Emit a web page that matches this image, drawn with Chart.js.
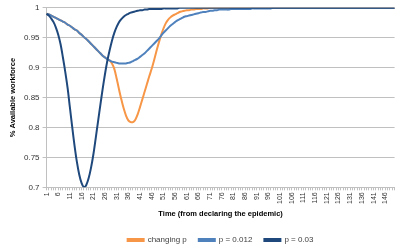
<!DOCTYPE html>
<html>
<head>
<meta charset="utf-8">
<script src="https://cdn.jsdelivr.net/npm/chart.js@4.4.1/dist/chart.umd.min.js"></script>
<style>
  html, body { margin: 0; padding: 0; background: #fff; }
  #wrap { width: 405px; height: 248px; }
</style>
</head>
<body>
<div id="wrap"><canvas id="myChart"></canvas></div>
<script>
// days 1..150 since the epidemic was declared
const days = [];
for (let d = 1; d <= 150; d++) days.push(String(d));

const yTicks = [0.7, 0.75, 0.8, 0.85, 0.9, 0.95, 1];

const changingP = [
  0.990, 0.989, 0.987, 0.985, 0.983, 0.981, 0.979, 0.977, 0.975, 0.972,
  0.970, 0.967, 0.964, 0.962, 0.958, 0.955, 0.951, 0.948, 0.944, 0.940,
  0.936, 0.932, 0.928, 0.924, 0.920, 0.917, 0.914, 0.912, 0.907, 0.898,
  0.882, 0.864, 0.847, 0.832, 0.820, 0.812, 0.809, 0.809, 0.813, 0.822,
  0.834, 0.847, 0.860, 0.873, 0.886, 0.898, 0.912, 0.927, 0.941, 0.954,
  0.965, 0.974, 0.980, 0.984, 0.987, 0.989, 0.991, 0.993, 0.994, 0.995,
  0.996, 0.996, 0.997, 0.997, 0.998, 0.998, 0.998, 0.999, 0.999, 0.999,
  1, 1, 1, 1, 1, 1, 1, 1, 1, 1,
  1, 1, 1, 1, 1, 1, 1, 1, 1, 1,
  1, 1, 1, 1, 1, 1, 1, 1, 1, 1,
  1, 1, 1, 1, 1, 1, 1, 1, 1, 1,
  1, 1, 1, 1, 1, 1, 1, 1, 1, 1,
  1, 1, 1, 1, 1, 1, 1, 1, 1, 1,
  1, 1, 1, 1, 1, 1, 1, 1, 1, 1,
  1, 1, 1, 1, 1, 1, 1, 1, 1, 1
];

const p012 = [
  0.990, 0.989, 0.987, 0.985, 0.983, 0.981, 0.979, 0.977, 0.975, 0.972,
  0.970, 0.967, 0.964, 0.962, 0.958, 0.955, 0.951, 0.948, 0.944, 0.940,
  0.936, 0.932, 0.928, 0.924, 0.920, 0.917, 0.914, 0.912, 0.910, 0.909,
  0.908, 0.907, 0.907, 0.907, 0.907, 0.908, 0.909, 0.911, 0.913, 0.915,
  0.918, 0.921, 0.924, 0.928, 0.932, 0.936, 0.940, 0.944, 0.948, 0.953,
  0.958, 0.962, 0.966, 0.970, 0.973, 0.976, 0.979, 0.981, 0.983, 0.985,
  0.986, 0.987, 0.988, 0.989, 0.990, 0.991, 0.992, 0.993, 0.993, 0.994,
  0.995, 0.995, 0.996, 0.996, 0.997, 0.997, 0.997, 0.997, 0.997, 0.998,
  0.998, 0.998, 0.998, 0.998, 0.998, 0.998, 0.998, 0.998, 0.999, 0.999,
  0.999, 0.999, 0.999, 0.999, 0.999, 0.999, 0.999, 1, 1, 1,
  1, 1, 1, 1, 1, 1, 1, 1, 1, 1,
  1, 1, 1, 1, 1, 1, 1, 1, 1, 1,
  1, 1, 1, 1, 1, 1, 1, 1, 1, 1,
  1, 1, 1, 1, 1, 1, 1, 1, 1, 1,
  1, 1, 1, 1, 1, 1, 1, 1, 1, 1
];

const p03 = [
  0.990, 0.987, 0.982, 0.976, 0.967, 0.955, 0.939, 0.917, 0.893, 0.866,
  0.833, 0.800, 0.769, 0.742, 0.721, 0.707, 0.700, 0.704, 0.715, 0.732,
  0.754, 0.781, 0.809, 0.837, 0.864, 0.889, 0.911, 0.929, 0.945, 0.958,
  0.968, 0.976, 0.981, 0.985, 0.988, 0.990, 0.992, 0.993, 0.994, 0.995,
  0.996, 0.996, 0.997, 0.997, 0.998, 0.998, 0.998, 0.998, 0.998, 0.998,
  0.999, 0.999, 0.999, 0.999, 0.999, 0.999, 0.999, 1, 1, 1,
  1, 1, 1, 1, 1, 1, 1, 1, 1, 1,
  1, 1, 1, 1, 1, 1, 1, 1, 1, 1,
  1, 1, 1, 1, 1, 1, 1, 1, 1, 1,
  1, 1, 1, 1, 1, 1, 1, 1, 1, 1,
  1, 1, 1, 1, 1, 1, 1, 1, 1, 1,
  1, 1, 1, 1, 1, 1, 1, 1, 1, 1,
  1, 1, 1, 1, 1, 1, 1, 1, 1, 1,
  1, 1, 1, 1, 1, 1, 1, 1, 1, 1,
  1, 1, 1, 1, 1, 1, 1, 1, 1, 1
];

const font = "'Liberation Sans', Arial, sans-serif";
const gridColor = "#c0c0c0";

function series(label, data, color, order) {
  return {
    label: label,
    data: data,
    borderColor: color,
    backgroundColor: color,
    borderWidth: 2,
    pointRadius: 0,
    tension: 0.3,
    order: order,
  };
}

new Chart(document.getElementById("myChart"), {
  type: "line",
  data: {
    labels: days,
    datasets: [
      series("changing p", changingP, "#F79646", 3),
      series("p = 0.012", p012, "#4F81BD", 2),
      series("p = 0.03", p03, "#1F497D", 1),
    ],
  },
  options: {
    responsive: true,
    maintainAspectRatio: false,
    animation: false,
    layout: { padding: { left: 8, right: 9, top: 4, bottom: -6 } },
    plugins: {
      tooltip: { enabled: false },
      legend: {
        position: "bottom",
        fullSize: false,
        labels: {
          sort: (a, b) => a.datasetIndex - b.datasetIndex,
          boxWidth: 16,
          boxHeight: 2,
          padding: 12,
          color: "#404040",
          font: { family: font, size: 8 },
        },
      },
    },
    scales: {
      x: {
        grid: { drawOnChartArea: false, drawTicks: true, tickLength: 3, color: gridColor },
        border: { color: gridColor },
        ticks: {
          autoSkip: false,
          minRotation: 90,
          maxRotation: 90,
          padding: 2,
          color: "#333",
          font: { family: font, size: 7 },
          callback: function (v, i) {
            return i % 5 === 0 ? days[i] : "";
          },
        },
        title: {
          display: true,
          text: "Time (from declaring the epidemic)",
          color: "#000",
          font: { family: font, size: 7.5, weight: "bold" },
          padding: { top: 3, bottom: 6 },
        },
      },
      y: {
        min: 0.7,
        max: 1,
        afterBuildTicks: (axis) => {
          axis.ticks = yTicks.map((v) => ({ value: v }));
        },
        grid: { color: gridColor, tickLength: 4 },
        border: { color: gridColor },
        ticks: {
          color: "#333",
          padding: 3,
          font: { family: font, size: 8 },
          callback: (v) => String(parseFloat(v.toFixed(2))),
        },
        title: {
          display: true,
          text: "% Available workforce",
          color: "#000",
          font: { family: font, size: 7.5, weight: "bold" },
          padding: { top: 0, bottom: 4 },
        },
      },
    },
  },
});
</script>
</body>
</html>
